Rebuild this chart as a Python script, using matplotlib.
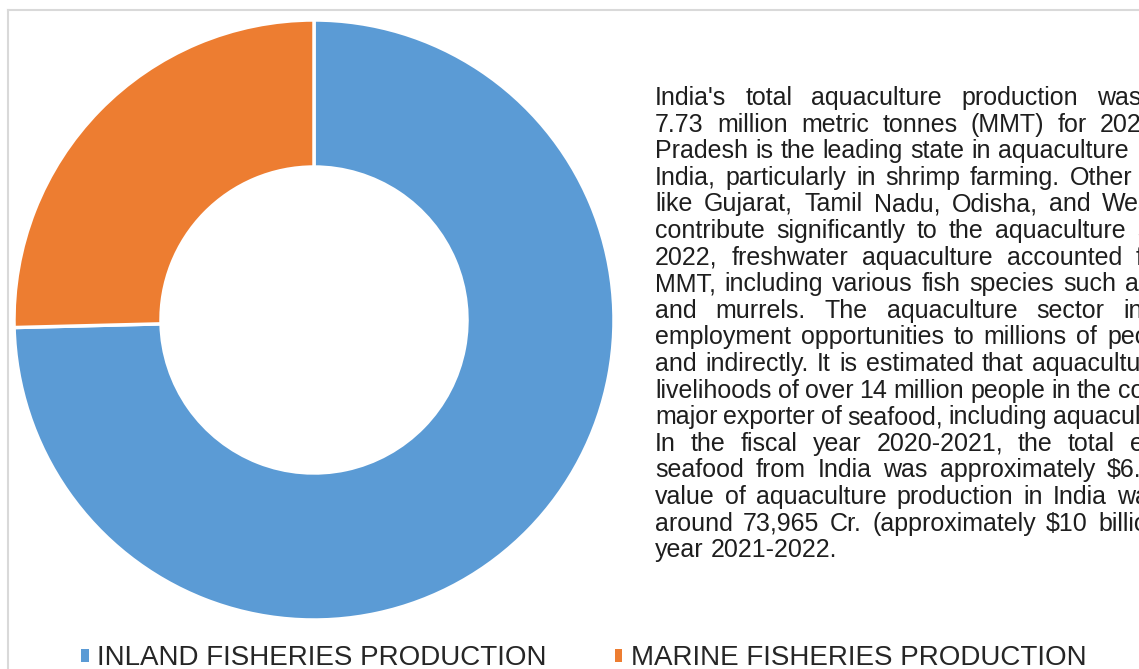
import matplotlib
matplotlib.use("Agg")
import matplotlib.pyplot as plt
from matplotlib.patches import Patch
from matplotlib.lines import Line2D

# data
categories = ["INLAND FISHERIES PRODUCTION", "MARINE FISHERIES PRODUCTION"]
values = [121.21, 41.27]   # lakh tonnes, read from the ring split
colors = ["#5B9BD5", "#ED7D31"]

text_lines = [
    "India's total aquaculture production was",
    "7.73 million metric tonnes (MMT) for 2021-22.",
    "Pradesh is the leading state in aquaculture",
    "India, particularly in shrimp farming. Other",
    "like Gujarat, Tamil Nadu, Odisha, and West",
    "contribute significantly to the aquaculture sector.",
    "2022, freshwater aquaculture accounted for",
    "MMT, including various fish species such as",
    "and murrels. The aquaculture sector in",
    "employment opportunities to millions of people,",
    "and indirectly. It is estimated that aquaculture",
    "livelihoods of over 14 million people in the country.",
    "major exporter of seafood, including aquaculture",
    "In the fiscal year 2020-2021, the total export",
    "seafood from India was approximately $6.68",
    "value of aquaculture production in India was",
    "around 73,965 Cr. (approximately $10 billion)",
    "year 2021-2022.",
]
# pixel x where the last word of each justified line starts (None = not justified)
last_word_x = [1097, 1100, 998, 1070, 1102, 1137, 1136, 1125, 1123,
               1107, 1032, 1118, 1053, 1130, 1107, 1117, 1098, None]

W, H = 1139, 669
fig = plt.figure(figsize=(W / 100, H / 100), dpi=100)

# donut
ax = fig.add_axes([14 / W, 49 / H, 600 / W, 600 / H])
wedges, _ = ax.pie(values, colors=colors, startangle=90, counterclock=False,
                   radius=1.0,
                   wedgeprops=dict(width=0.49, edgecolor="white", linewidth=2.5))
ax.set_xlim(-1.0, 1.0)
ax.set_ylim(-1.0, 1.0)
ax.set_aspect("equal")

# light grey frame
fig.add_artist(Line2D([8 / W, 8 / W], [0, 1 - 10 / H], transform=fig.transFigure,
                      color="#d9d9d9", lw=1.5))
fig.add_artist(Line2D([8 / W, 1], [1 - 10 / H, 1 - 10 / H], transform=fig.transFigure,
                      color="#d9d9d9", lw=1.5))

# justified paragraph
renderer = fig.canvas.get_renderer()
fs = 18
x0 = 655
y_first = 105
dy = 26.6
space = fig.text(0, 0, "a a", fontsize=fs, family="Liberation Sans")
aw = fig.text(0, 0, "aa", fontsize=fs, family="Liberation Sans")
sp = space.get_window_extent(renderer).width - aw.get_window_extent(renderer).width
space.remove()
aw.remove()
for i, line in enumerate(text_lines):
    words = line.split(" ")
    yb = 1 - (y_first + i * dy) / H
    arts = []
    widths = []
    for w in words:
        t = fig.text(0, yb, w, fontsize=fs, family="Liberation Sans", color="#1e1e1e",
                     va="baseline", ha="left", parse_math=False)
        arts.append(t)
        widths.append(t.get_window_extent(renderer).width)
    lx = last_word_x[i]
    if lx is None or len(words) < 2:
        gap = sp
    else:
        gap = (lx - x0 - sum(widths[:-1])) / (len(words) - 1)
    x = x0
    for t, w in zip(arts, widths):
        t.set_x(x / W)
        x += w + gap

# legend
handles = [Patch(facecolor=c, edgecolor="none") for c in colors]
fig.legend(handles, categories, loc="lower left", bbox_to_anchor=(81 / W, -2 / H),
           ncol=2, frameon=False, prop={"family": "Liberation Sans", "size": 20},
           labelcolor="#262626", handlelength=0.28, handleheight=0.34,
           handletextpad=0.3, columnspacing=2.45, borderpad=0, borderaxespad=0)

fig.savefig("out.png", dpi=100)
